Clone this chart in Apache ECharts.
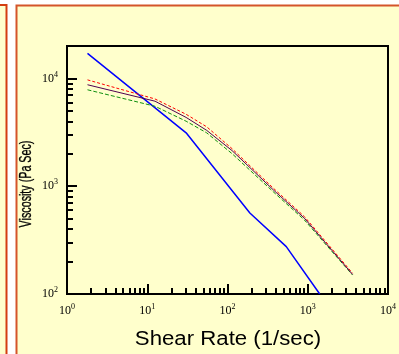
<!DOCTYPE html>
<html>
<head>
<meta charset="utf-8">
<script src="https://cdn.jsdelivr.net/npm/echarts@6/dist/echarts.min.js"></script>
<style>
html,body{margin:0;padding:0;background:#fff;}
#chart{width:399px;height:354px;}
</style>
</head>
<body>
<div id="chart"></div>
<script>
// Data (log-log)
var shearRate = [1.8, 12.5, 30.5, 55, 114, 371, 906, 3615];
var seriesRed = [9700, 6450, 4650, 3560, 2230, 962, 524, 156];
var seriesPurple = [8740, 6150, 4350, 3300, 2140, 927, 506, 152];
var seriesGreen = [7850, 5520, 4010, 3130, 2005, 889, 487, 150];
var blueRate = [1.8, 30.5, 190, 540, 1410];
var seriesBlue = [17100, 3130, 564, 275, 100];

var xMajorTicks = [1, 10, 100, 1000, 10000];
var xMinorTicks = [2,3,4,5,6,7,8,9,20,30,40,50,60,70,80,90,200,300,400,500,600,700,800,900,2000,3000,4000,5000,6000,7000,8000,9000];
var yMajorTicks = [100, 1000, 10000];
var yMinorTicks = [200,300,400,500,600,700,800,900,2000,3000,4000,5000,6000,7000,8000,9000];

var xTitle = 'Shear Rate (1/sec)';
var yTitle = 'Viscosity (Pa Sec)';

function pairs(xs, ys) { return xs.map(function (x, i) { return [x, ys[i]]; }); }
function powLabel(v) { return '10{s|' + Math.round(Math.log10(v)) + '}'; }

var labelRich = {
  s: { fontFamily: 'Liberation Serif', fontSize: 8, color: '#000', verticalAlign: 'top', lineHeight: 10, padding: [0, 0, 6, 0] }
};

var chart = echarts.init(document.getElementById('chart'), null, { renderer: 'canvas' });
chart.setOption({
  backgroundColor: '#ffffff',
  animation: false,
  graphic: [
    { type: 'rect', z: -10, shape: { x: -20, y: 5, width: 26.5, height: 400 },
      style: { fill: '#FFFFCC', stroke: '#D43E10', lineWidth: 2 } },
    { type: 'rect', z: -10, shape: { x: 16.5, y: 5.5, width: 400, height: 400 },
      style: { fill: '#FFFFCC', stroke: '#D4552A', lineWidth: 2 } },
    { type: 'text', z: 10, x: 27, y: 184, rotation: Math.PI / 2, scaleX: 0.67, scaleY: 1,
      style: { text: yTitle, fontFamily: 'Liberation Sans', fontSize: 16, fill: '#000', align: 'center', verticalAlign: 'middle',
        stroke: '#000', lineWidth: 0.3 } },
    { type: 'text', z: 10, x: 228, y: 339, scaleX: 1.11, scaleY: 1,
      style: { text: xTitle, fontFamily: 'Liberation Sans', fontSize: 20, fill: '#000', align: 'center', verticalAlign: 'middle' } }
  ],
  grid: { left: 67, top: 46, right: 6, bottom: 60, show: true, borderColor: '#000', borderWidth: 2, backgroundColor: 'transparent' },
  xAxis: [
    { type: 'log', logBase: 10, min: 1, max: 10000, position: 'bottom',
      axisLine: { show: true, lineStyle: { color: '#000', width: 2 } },
      axisTick: { show: true, inside: true, length: 10, lineStyle: { color: '#000', width: 2 }, customValues: xMajorTicks },
      axisLabel: { show: true, margin: 9, customValues: xMajorTicks, formatter: powLabel,
        fontFamily: 'Liberation Serif', fontSize: 12, color: '#000', lineHeight: 16, rich: labelRich },
      splitLine: { show: false } },
    { type: 'log', logBase: 10, min: 1, max: 10000, position: 'bottom',
      axisLine: { show: false },
      axisTick: { show: true, inside: true, length: 6, lineStyle: { color: '#000', width: 2 }, customValues: xMinorTicks },
      axisLabel: { show: false }, splitLine: { show: false } }
  ],
  yAxis: [
    { type: 'log', logBase: 10, min: 100, max: 20000, position: 'left',
      axisLine: { show: true, lineStyle: { color: '#000', width: 2 } },
      axisTick: { show: true, inside: true, length: 10, lineStyle: { color: '#000', width: 2 }, customValues: yMajorTicks },
      axisLabel: { show: true, margin: 9, customValues: yMajorTicks, formatter: powLabel,
        fontFamily: 'Liberation Serif', fontSize: 12, color: '#000', lineHeight: 16, rich: labelRich },
      splitLine: { show: false } },
    { type: 'log', logBase: 10, min: 100, max: 20000, position: 'left',
      axisLine: { show: false },
      axisTick: { show: true, inside: true, length: 6, lineStyle: { color: '#000', width: 2 }, customValues: yMinorTicks },
      axisLabel: { show: false }, splitLine: { show: false } }
  ],
  series: [
    { type: 'line', name: 'blue', data: pairs(blueRate, seriesBlue), symbol: 'none', clip: true,
      lineStyle: { color: '#0000FF', width: 1.5 } },
    { type: 'line', name: 'green', data: pairs(shearRate, seriesGreen), symbol: 'none',
      lineStyle: { color: '#109010', width: 1, type: [4, 2] } },
    { type: 'line', name: 'purple', data: pairs(shearRate, seriesPurple), symbol: 'none',
      lineStyle: { color: '#500050', width: 1 } },
    { type: 'line', name: 'red', data: pairs(shearRate, seriesRed), symbol: 'none',
      lineStyle: { color: '#FF0000', width: 1, type: [3, 2] } }
  ]
});
</script>
</body>
</html>
